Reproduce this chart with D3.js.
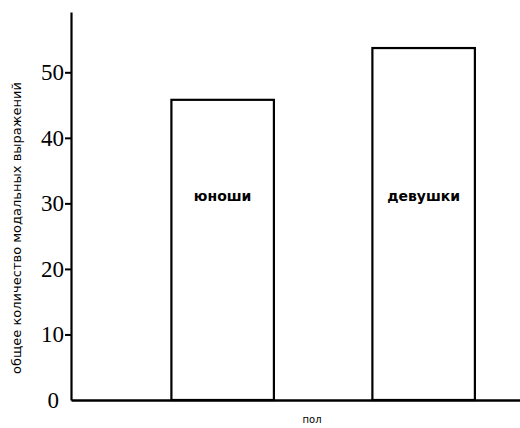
<!DOCTYPE html>
<html>
<head>
<meta charset="utf-8">
<script src="https://cdn.jsdelivr.net/npm/d3@7"></script>
<style>
  html, body { margin: 0; padding: 0; background: #fff; }
  svg { display: block; }
</style>
</head>
<body>
<svg id="chart" width="520" height="428"></svg>
<script>
const categories = ["юноши", "девушки"];
const values = [45.8, 53.7];
const yTicks = [0, 10, 20, 30, 40, 50];
const yLabel = "общее количество модальных выражений";
const xLabel = "пол";

const svg = d3.select("#chart");
const x0 = 71, x1 = 520, yTop = 12, yBase = 400;

const y = d3.scaleLinear().domain([0, 59.2]).range([yBase, yTop]);
const x = d3.scaleBand().domain(categories).range([x0, x1])
  .paddingInner(0.49).paddingOuter(0.362).align(0.69);

// bars
const bars = svg.append("g").selectAll("g").data(categories).join("g");
bars.append("rect")
  .attr("x", d => x(d))
  .attr("y", (d, i) => y(values[i]))
  .attr("width", x.bandwidth())
  .attr("height", (d, i) => y(0) - y(values[i]))
  .attr("fill", "#fff")
  .attr("stroke", "#000")
  .attr("stroke-width", 2.2);
bars.append("text")
  .attr("x", d => x(d) + x.bandwidth() / 2)
  .attr("y", 201)
  .attr("text-anchor", "middle")
  .attr("font-family", "DejaVu Sans")
  .attr("font-weight", "bold")
  .attr("font-size", 14)
  .text(d => d);

// y axis
const yAxis = d3.axisLeft(y).tickValues(yTicks).tickSize(6).tickSizeOuter(0).tickPadding(1)
  .tickFormat(d3.format("d"));
const gy = svg.append("g").attr("transform", `translate(${x0},0)`).call(yAxis);
gy.select(".domain").attr("stroke", "#000").attr("stroke-width", 2.2);
gy.selectAll(".tick line").attr("stroke", "#000").attr("stroke-width", 2);
gy.selectAll(".tick text")
  .attr("font-family", "Liberation Serif")
  .attr("font-size", 23)
  .attr("fill", "#000");
gy.selectAll(".tick").filter(d => d === 0).select("line").remove();
gy.selectAll(".tick").filter(d => d === 0).select("text").attr("x", -12);

// x axis line
const xAxis = d3.axisBottom(d3.scaleLinear().domain([0, 1]).range([x0, x1]))
  .tickValues([]).tickSizeOuter(0);
const gx = svg.append("g").attr("transform", `translate(0,${yBase})`).call(xAxis);
gx.select(".domain").attr("stroke", "#000").attr("stroke-width", 2.5);

// labels
svg.append("text")
  .attr("transform", `translate(21,228) rotate(-90)`)
  .attr("text-anchor", "middle")
  .attr("font-family", "DejaVu Sans")
  .attr("font-size", 12)
  .attr("textLength", 292)
  .attr("lengthAdjust", "spacingAndGlyphs")
  .text(yLabel);

svg.append("text")
  .attr("x", 312)
  .attr("y", 423)
  .attr("text-anchor", "middle")
  .attr("font-family", "DejaVu Sans")
  .attr("font-size", 10)
  .text(xLabel);
</script>
</body>
</html>
